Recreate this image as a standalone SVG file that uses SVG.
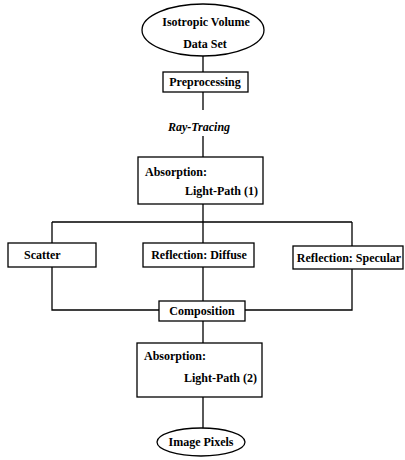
<svg xmlns="http://www.w3.org/2000/svg" width="405" height="460" viewBox="0 0 405 460">
<style>
.n{fill:#fff;stroke:#000;stroke-width:1.3}
.t{font-family:"Liberation Serif",serif;font-weight:bold;font-size:12px;fill:#000}
.c{text-anchor:middle}
.e{text-anchor:end}
.l{fill:none;stroke:#000;stroke-width:1.3}
</style>
<rect width="405" height="460" fill="#fff"/>
<g id="connectors">
<path class="l" d="M203 56V72M203 92V110M203 136V157M203 204V222M52 222H352M52 222V243M203 222V243M352 222V246M52 267V310H159M203 267V301M352 269V310H245M203 321V343M203 397V428"/>
</g>
<g id="n1"><ellipse class="n" cx="203" cy="30" rx="61" ry="26"/><text class="t c" x="206" y="26">Isotropic Volume</text><text class="t c" x="205" y="48">Data Set</text></g>
<g id="n2"><rect class="n" x="163" y="72" width="85" height="20"/><text class="t c" x="205" y="86">Preprocessing</text></g>
<g id="n3"><text class="t c" x="199" y="131" font-style="italic">Ray-Tracing</text></g>
<g id="n4"><rect class="n" x="138" y="157" width="125" height="47"/><text class="t" x="145" y="176">Absorption:</text><text class="t e" x="258" y="195">Light-Path (1)</text></g>
<g id="n5"><rect class="n" x="8" y="243" width="88" height="24"/><text class="t" x="24" y="259">Scatter</text></g>
<g id="n6"><rect class="n" x="143" y="243" width="111" height="24"/><text class="t c" x="199" y="259">Reflection: Diffuse</text></g>
<g id="n7"><rect class="n" x="293" y="246" width="110" height="23"/><text class="t c" x="349" y="262">Reflection: Specular</text></g>
<g id="n8"><rect class="n" x="159" y="301" width="86" height="20"/><text class="t c" x="202" y="315">Composition</text></g>
<g id="n9"><rect class="n" x="137" y="343" width="125" height="54"/><text class="t" x="144" y="360">Absorption:</text><text class="t e" x="257" y="382">Light-Path (2)</text></g>
<g id="n10"><ellipse class="n" cx="201" cy="442" rx="44" ry="14"/><text class="t c" x="201" y="446">Image Pixels</text></g>
</svg>
